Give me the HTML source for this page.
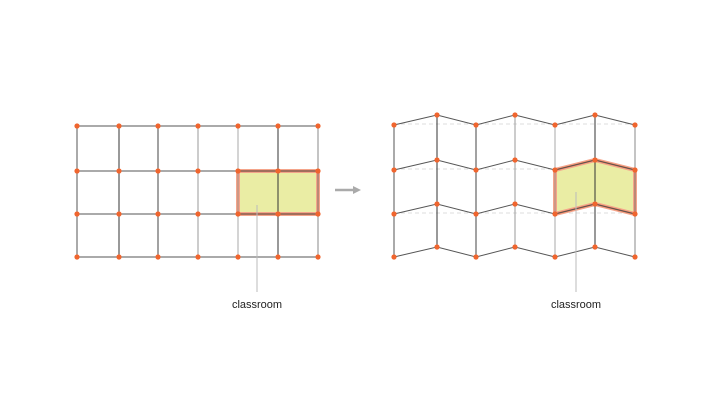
<!DOCTYPE html>
<html><head><meta charset="utf-8"><style>
body{margin:0;background:#fff}
svg{display:block;font-family:"Liberation Sans",sans-serif}
</style></head><body>
<svg id="s" width="720" height="405" viewBox="0 0 720 405">
<line x1="335" y1="190" x2="355" y2="190" stroke="#aaa" stroke-width="2.5"/>
<polygon points="353,186 361,190 353,194" fill="#aaa"/>
<text x="257" y="308" font-size="11" text-anchor="middle" fill="#222">classroom</text>
<text x="576" y="308" font-size="11" text-anchor="middle" fill="#222">classroom</text>
</svg>
<script>
const leftXs=[77,119,158,198,238,278,318];
const leftYs=[126,171,214,257];
const rightXs=[394,437,476,515,555,595,635];
const rightYs=[125,170,214,257];
const waveOffset=[0,-10];
const NS="http://www.w3.org/2000/svg";
const s=document.getElementById('s');
function mk(t,a,name){const e=document.createElementNS(NS,t);for(const k in a)e.setAttribute(k,a[k]);


s.insertBefore(e,s.firstChild.nextSibling?null:null);s.appendChild(e);return e;}
const colStroke=['#555','#333','#444','#999','#aaa','#333','#888'];
// left grid
function LP(i,j){return [leftXs[i],leftYs[j]];}
function RP(i,j){return [rightXs[i],rightYs[j]+waveOffset[i%2]];}
function grid(P,dash,side){
  if(dash){rightYs.slice(0,3).forEach(y=>mk('line',{x1:rightXs[0],y1:y-1,x2:rightXs[6],y2:y-1,stroke:'#ddd','stroke-dasharray':'4,3','stroke-width':1},'dashed-guide'));}
  // highlight
  const pts=[P(4,1),P(5,1),P(6,1),P(6,2),P(5,2),P(4,2)];
  mk('polygon',{points:pts.map(p=>p.join(',')).join(' '),fill:'#eaeda4',stroke:'#f4a48a','stroke-width':4,'stroke-linejoin':'round'},side+'-classroom-fill');
  mk('polygon',{points:pts.map(p=>p.join(',')).join(' '),fill:'none',stroke:'#ec6a3c','stroke-width':1.5},side+'-classroom-outline');
  for(let j=0;j<4;j++){let d='';for(let i=0;i<7;i++){const p=P(i,j);d+=(i?'L':'M')+p[0]+','+p[1];}
    mk('path',{d,fill:'none',stroke:'#555','stroke-width':1},side+'-row-line');}
  for(let i=0;i<7;i++){const a=P(i,0),b=P(i,3);mk('line',{x1:a[0],y1:a[1],x2:b[0],y2:b[1],stroke:colStroke[i],'stroke-width':1},side+'-column-line');}
  for(let i=0;i<7;i++)for(let j=0;j<4;j++){const p=P(i,j);mk('circle',{cx:p[0],cy:p[1],r:2.6,fill:'#f0652e'},side+'-node');}
}
grid(LP,false,'left');grid(RP,true,'right');
mk('line',{x1:257,y1:205,x2:257,y2:292,stroke:'#bbb','stroke-width':1},'left-leader-line');
mk('line',{x1:576,y1:192,x2:576,y2:292,stroke:'#bbb','stroke-width':1},'right-leader-line');
</script>
</body></html>
